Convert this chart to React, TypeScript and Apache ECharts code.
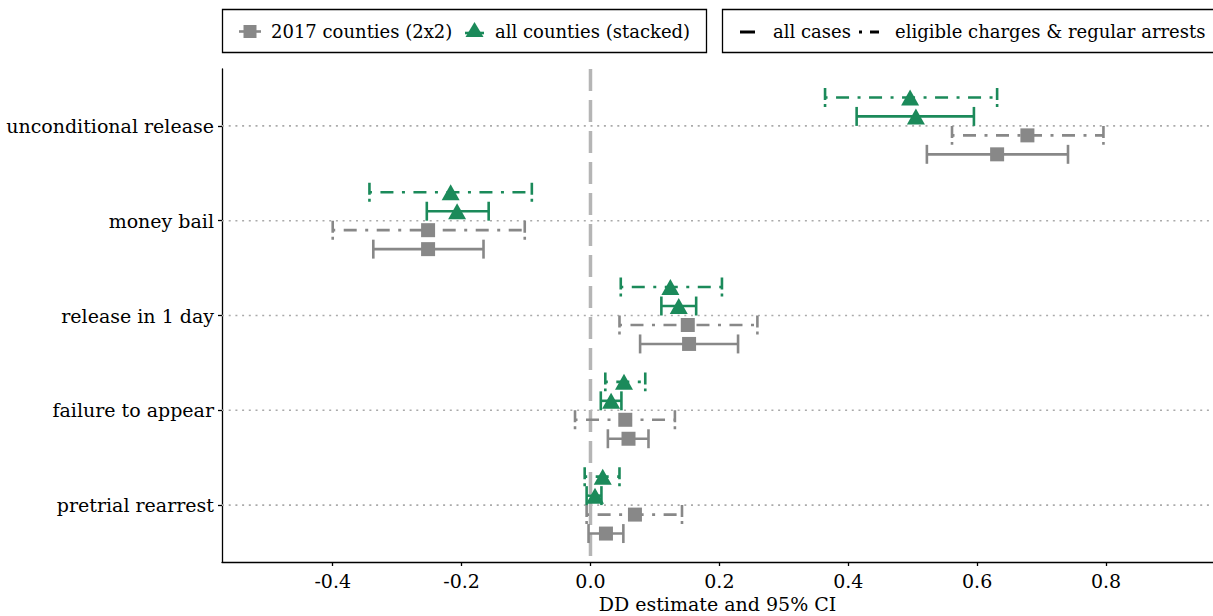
import React, { useEffect, useRef } from "react";
import * as echarts from "echarts";

const categories = [
  "unconditional release",
  "money bail",
  "release in 1 day",
  "failure to appear",
  "pretrial rearrest",
];
const xTicks = [-0.4, -0.2, 0.0, 0.2, 0.4, 0.6, 0.8];

// all counties (stacked) — eligible charges & regular arrests
const stackedEligibleEst = [0.496, -0.217, 0.124, 0.052, 0.019];
const stackedEligibleLo = [0.364, -0.343, 0.047, 0.023, -0.009];
const stackedEligibleHi = [0.631, -0.091, 0.204, 0.085, 0.045];
// all counties (stacked) — all cases
const stackedAllEst = [0.505, -0.207, 0.137, 0.032, 0.007];
const stackedAllLo = [0.413, -0.254, 0.11, 0.016, -0.006];
const stackedAllHi = [0.595, -0.158, 0.164, 0.048, 0.017];
// 2017 counties (2x2) — eligible charges & regular arrests
const countiesEligibleEst = [0.678, -0.252, 0.151, 0.054, 0.069];
const countiesEligibleLo = [0.561, -0.4, 0.045, -0.024, -0.006];
const countiesEligibleHi = [0.796, -0.102, 0.259, 0.131, 0.142];
// 2017 counties (2x2) — all cases
const countiesAllEst = [0.631, -0.252, 0.153, 0.059, 0.024];
const countiesAllLo = [0.522, -0.337, 0.077, 0.027, -0.003];
const countiesAllHi = [0.741, -0.166, 0.229, 0.09, 0.051];

const GREEN = "#1b8a5a";
const GRAY = "#888888";
const FONT = '"DejaVu Serif"';

const groups = [
  { est: countiesAllEst, lo: countiesAllLo, hi: countiesAllHi, color: GRAY, dashed: false, dodge: -0.3, symbol: "rect" },
  { est: countiesEligibleEst, lo: countiesEligibleLo, hi: countiesEligibleHi, color: GRAY, dashed: true, dodge: -0.1, symbol: "rect" },
  { est: stackedAllEst, lo: stackedAllLo, hi: stackedAllHi, color: GREEN, dashed: false, dodge: 0.1, symbol: "triangle" },
  { est: stackedEligibleEst, lo: stackedEligibleLo, hi: stackedEligibleHi, color: GREEN, dashed: true, dodge: 0.3, symbol: "triangle" },
];

const catPos = (i: number) => categories.length - i;

export default function App() {
  const ref = useRef<HTMLDivElement>(null);
  useEffect(() => {
    if (!ref.current) return;
    const chart = echarts.init(ref.current, null, { renderer: "svg" });

    const errorSeries = groups.map((g) => ({
      type: "custom",
      z: 3,
      encode: { x: [0, 1], y: 2 },
      data: g.est.map((_, i) => [g.lo[i], g.hi[i], catPos(i) + g.dodge]),
      renderItem: (params: any, api: any) => {
        const a = api.coord([api.value(0), api.value(2)]);
        const b = api.coord([api.value(1), api.value(2)]);
        const h = api.size([0, 0.1])[1];
        const base = { stroke: g.color, lineWidth: 2.6, fill: null, lineCap: "butt" };
        const hStyle = g.dashed ? { ...base, lineDash: [13, 8.5, 3, 8.5], lineDashOffset: 22 } : base;
        const cStyle = g.dashed ? { ...base, lineDash: [12, 4, 3, 20] } : base;
        return {
          type: "group",
          children: [
            { type: "line", shape: { x1: a[0], y1: a[1], x2: b[0], y2: b[1] }, style: hStyle },
            { type: "line", shape: { x1: a[0], y1: a[1] - h, x2: a[0], y2: a[1] + h }, style: cStyle },
            { type: "line", shape: { x1: b[0], y1: b[1] - h, x2: b[0], y2: b[1] + h }, style: cStyle },
          ],
        };
      },
    }));

    // reference lines (category grid lines and the zero line), drawn through the axes
    const refLines = {
      type: "custom",
      z: 1,
      silent: true,
      encode: { x: 0, y: 1 },
      data: [...categories.map((_, i) => [0, catPos(i), 0]), [0, 3, 1]],
      renderItem: (params: any, api: any) => {
        const cs = params.coordSys;
        if (api.value(2) === 1) {
          const p = api.coord([0, 3]);
          return {
            type: "line",
            shape: { x1: p[0], y1: cs.y, x2: p[0], y2: cs.y + cs.height },
            style: { stroke: "#b5b5b5", lineWidth: 3.5, lineDash: [22, 9], lineDashOffset: 0, fill: null },
          };
        }
        const p = api.coord([0, api.value(1)]);
        return {
          type: "line",
          shape: { x1: cs.x, y1: p[1], x2: cs.x + cs.width, y2: p[1] },
          style: { stroke: "#aaaaaa", lineWidth: 1.6, lineDash: [2, 4.7], fill: null },
        };
      },
    };

    const pointSeries = groups.map((g) => ({
      type: "scatter",
      z: 4,
      symbol: g.symbol,
      symbolSize: g.symbol === "triangle" ? [18, 16] : 14,
      itemStyle: { color: g.color, opacity: 1 },
      data: g.est.map((v, i) => [v, catPos(i) + g.dodge]),
    }));

    const legendText = (text: string, x: number) => ({
      type: "text",
      style: { text, x, y: 31, font: `18px ${FONT}`, fill: "#000", verticalAlign: "middle", align: "left" },
    });

    chart.setOption({
      animation: false,
      grid: { left: 222, right: 0, top: 69, bottom: 54, containLabel: false, outerBoundsMode: "none" },
      xAxis: {
        type: "value",
        min: -0.5718,
        max: 0.966,
        splitLine: { show: false },
        axisLine: { show: true, onZero: false, lineStyle: { color: "#000", width: 1.3 } },
        axisTick: { show: true, length: 4, customValues: xTicks, lineStyle: { color: "#000", width: 1.3 } },
        axisLabel: {
          customValues: xTicks,
          formatter: (v: number) => v.toFixed(1),
          color: "#000",
          fontFamily: FONT,
          fontSize: 19,
          margin: 9,
        },
        name: "DD estimate and 95% CI",
        nameLocation: "middle",
        nameGap: 31,
        nameTextStyle: { color: "#000", fontFamily: FONT, fontSize: 19 },
      },
      yAxis: {
        type: "value",
        min: 0.4,
        max: 5.6,
        splitLine: { show: false },
        axisLine: { show: true, onZero: false, lineStyle: { color: "#000", width: 1.3 } },
        axisTick: { show: true, length: 4, customValues: categories.map((_, i) => catPos(i)), lineStyle: { color: "#000", width: 1.3 } },
        axisLabel: {
          customValues: categories.map((_, i) => catPos(i)),
          formatter: (v: number) => categories[categories.length - Math.round(v)],
          color: "#000",
          fontFamily: FONT,
          fontSize: 19,
          margin: 8,
        },
      },
      graphic: [
        { type: "rect", shape: { x: 222.5, y: 9.5, width: 484, height: 43 }, style: { fill: "none", stroke: "#000", lineWidth: 1.3 } },
        { type: "rect", shape: { x: 722.5, y: 9.5, width: 520, height: 43 }, style: { fill: "none", stroke: "#000", lineWidth: 1.3 } },
        { type: "line", shape: { x1: 239, y1: 31.5, x2: 261, y2: 31.5 }, style: { stroke: GRAY, lineWidth: 2.6 } },
        { type: "rect", shape: { x: 243.5, y: 25, width: 13, height: 13 }, style: { fill: GRAY } },
        legendText("2017 counties (2x2)", 271),
        { type: "line", shape: { x1: 465, y1: 33, x2: 484, y2: 33 }, style: { stroke: GREEN, lineWidth: 2.6 } },
        { type: "polygon", shape: { points: [[474.5, 22], [465.5, 37], [483.5, 37]] }, style: { fill: GREEN } },
        legendText("all counties (stacked)", 495),
        { type: "line", shape: { x1: 740, y1: 32, x2: 755, y2: 32 }, style: { stroke: "#000", lineWidth: 3 } },
        legendText("all cases", 773),
        { type: "line", shape: { x1: 859, y1: 32, x2: 862, y2: 32 }, style: { stroke: "#000", lineWidth: 3 } },
        { type: "line", shape: { x1: 870, y1: 32, x2: 879, y2: 32 }, style: { stroke: "#000", lineWidth: 3 } },
        legendText("eligible charges & regular arrests", 895),
      ],
      series: [refLines, ...errorSeries, ...pointSeries],
    });
    return () => chart.dispose();
  }, []);
  return (
    <div
      ref={ref}
      style={{ position: "fixed", left: 0, top: 0, width: 1213, height: 616, background: "#fff" }}
    />
  );
}
